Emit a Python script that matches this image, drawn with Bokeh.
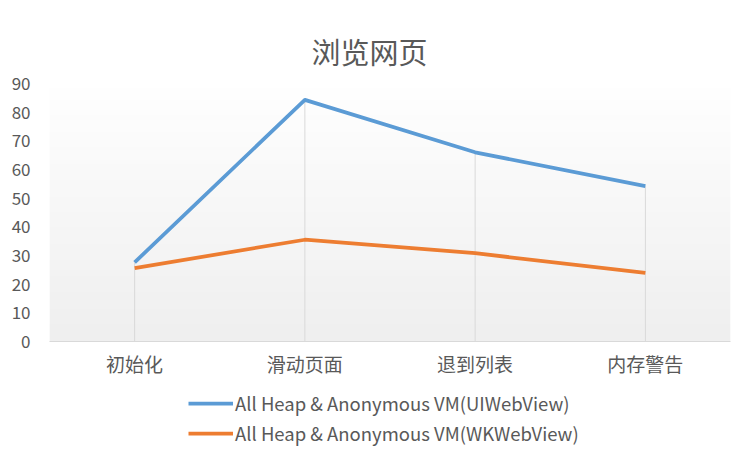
import numpy as np
from bokeh.plotting import figure
from bokeh.layouts import column
from bokeh.models import Range1d, FactorRange, Legend, LegendItem, LinearColorMapper, FixedTicker
from bokeh.embed import file_html
from bokeh.resources import INLINE

title_text = "浏览网页"
categories = ["初始化", "滑动页面", "退到列表", "内存警告"]
ui_values = [27.6, 84.3, 66.0, 54.2]
wk_values = [25.6, 35.5, 30.8, 23.9]
ui_name = "All Heap & Anonymous VM(UIWebView)"
wk_name = "All Heap & Anonymous VM(WKWebView)"
y_ticks = [0, 10, 20, 30, 40, 50, 60, 70, 80, 90]

FONT = "Noto Sans CJK SC"
TXT = "#595959"
BLUE = "#5b9bd5"
ORANGE = "#ed7d31"

p = figure(x_range=FactorRange(*categories), y_range=Range1d(0, 90),
           width=736, height=379, output_backend="svg", toolbar_location=None,
           min_border_left=49, min_border_right=6, min_border_top=83, min_border_bottom=38,
           title=title_text)

p.title.align = "left"
p.title.offset = 262
p.title.text_font = FONT
p.title.text_font_size = "29px"
p.title.text_font_style = "normal"
p.title.text_color = TXT
p.title.standoff = 24

p.outline_line_color = None
p.background_fill_color = "white"
p.border_fill_color = "white"
p.xgrid.visible = False
p.ygrid.visible = False

# subtle vertical gradient in plot area
grad = np.linspace(0, 1, 200).reshape(200, 1)
palette = ["#%02x%02x%02x" % (v, v, v) for v in np.linspace(239, 255, 64).astype(int)]
mapper = LinearColorMapper(palette=palette, low=0, high=1)
p.image(image=[grad], x=0, y=0, dw=4, dh=90, color_mapper=mapper)

# drop lines
tops = [max(a, b) for a, b in zip(ui_values, wk_values)]
p.segment(x0=categories, y0=[0] * len(categories), x1=categories, y1=tops,
          line_color="#d9d9d9", line_width=1)

p.line(categories, ui_values, line_color=BLUE, line_width=3.75, line_join="round")
p.line(categories, wk_values, line_color=ORANGE, line_width=3.75, line_join="round")

# axes
p.yaxis.ticker = FixedTicker(ticks=y_ticks)
p.yaxis.axis_line_color = None
p.yaxis.major_tick_line_color = None
p.yaxis.minor_tick_line_color = None
p.yaxis.major_label_text_font = FONT
p.yaxis.major_label_text_font_size = "17px"
p.yaxis.major_label_text_color = TXT
p.yaxis.major_label_standoff = 13

p.xaxis.axis_line_color = "#d9d9d9"
p.xaxis.axis_line_width = 1
p.xaxis.major_tick_line_color = None
p.xaxis.minor_tick_line_color = None
p.xaxis.major_label_text_font = FONT
p.xaxis.major_label_text_font_size = "19px"
p.xaxis.major_label_text_color = TXT
p.xaxis.major_label_standoff = 2

# legend in its own strip below the chart (frames are aligned in a column)
lg = figure(width=736, height=67, output_backend="svg", toolbar_location=None,
            min_border=0, x_range=Range1d(0, 1), y_range=Range1d(0, 1))
lg.axis.visible = False
lg.grid.visible = False
lg.outline_line_color = None
lg.background_fill_color = "white"
lg.border_fill_color = "white"
# off-screen proxies, only used to draw the legend swatches
l1 = lg.line(x=[-2, -1], y=[-2, -1], line_color=BLUE, line_width=3.75)
l2 = lg.line(x=[-2, -1], y=[-2, -1], line_color=ORANGE, line_width=3.75)

legend = Legend(items=[LegendItem(label=ui_name, renderers=[l1]),
                       LegendItem(label=wk_name, renderers=[l2])],
                orientation="vertical", location=(139, 0))
legend.label_text_font = FONT
legend.label_text_font_size = "18.5px"
legend.label_text_color = TXT
legend.glyph_width = 45
legend.glyph_height = 20
legend.label_height = 20
legend.label_standoff = 2
legend.spacing = 4
legend.padding = 0
legend.margin = 0
legend.border_line_color = None
legend.background_fill_alpha = 0
lg.add_layout(legend, "center")

layout = column(p, lg, spacing=0)
open("out.html", "w").write(file_html(layout, INLINE))
